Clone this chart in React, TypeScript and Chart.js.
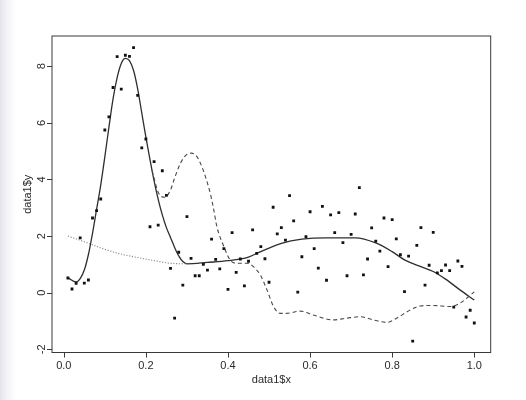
import React, { useEffect, useRef } from "react";
import { Chart, registerables } from "chart.js";

Chart.register(...registerables);

// ---- data ----
const xValues = [
  0.01, 0.02, 0.03, 0.04, 0.05, 0.06, 0.07, 0.08, 0.09, 0.10,
  0.11, 0.12, 0.13, 0.14, 0.15, 0.16, 0.17, 0.18, 0.19, 0.20,
  0.21, 0.22, 0.23, 0.24, 0.25, 0.26, 0.27, 0.28, 0.29, 0.30,
  0.31, 0.32, 0.33, 0.34, 0.35, 0.36, 0.37, 0.38, 0.39, 0.40,
  0.41, 0.42, 0.43, 0.44, 0.45, 0.46, 0.47, 0.48, 0.49, 0.50,
  0.51, 0.52, 0.53, 0.54, 0.55, 0.56, 0.57, 0.58, 0.59, 0.60,
  0.61, 0.62, 0.63, 0.64, 0.65, 0.66, 0.67, 0.68, 0.69, 0.70,
  0.71, 0.72, 0.73, 0.74, 0.75, 0.76, 0.77, 0.78, 0.79, 0.80,
  0.81, 0.82, 0.83, 0.84, 0.85, 0.86, 0.87, 0.88, 0.89, 0.90,
  0.91, 0.92, 0.93, 0.94, 0.95, 0.96, 0.97, 0.98, 0.99, 1.00,
];
const yValues = [
  0.52, 0.13, 0.33, 1.94, 0.34, 0.45, 2.64, 2.90, 3.31, 5.75,
  6.21, 7.25, 8.34, 7.19, 8.39, 8.35, 8.66, 6.97, 5.12, 5.43,
  2.33, 4.63, 2.39, 4.31, 3.44, 0.86, -0.90, 1.43, 0.27, 2.69,
  1.21, 0.60, 0.60, 1.00, 0.80, 1.89, 1.18, 0.84, 1.56, 0.12,
  2.12, 0.72, 1.19, 0.24, 1.11, 2.22, 1.39, 1.63, 1.20, 0.37,
  3.02, 2.08, 2.30, 1.86, 3.43, 2.54, 0.02, 1.27, 1.98, 2.86,
  1.56, 0.87, 3.05, 0.44, 2.75, 2.12, 2.83, 1.77, 0.60, 2.06,
  2.78, 3.71, 0.63, 1.19, 2.29, 1.82, 1.47, 2.64, 0.92, 2.58,
  1.90, 1.34, 0.04, 1.29, -1.71, 1.67, 2.30, 0.27, 0.97, 2.13,
  0.70, 0.78, 0.98, 0.78, -0.51, 1.12, 0.93, -0.86, -0.62, -1.07,
];

const solidX = [
  0.01, 0.03, 0.04, 0.05, 0.06, 0.07, 0.08, 0.09, 0.10, 0.11, 0.12, 0.13,
  0.14, 0.15, 0.16, 0.17, 0.18, 0.19, 0.20, 0.21, 0.22, 0.23, 0.24, 0.25,
  0.26, 0.27, 0.28, 0.29, 0.30, 0.35, 0.40, 0.45, 0.48, 0.53, 0.58, 0.64,
  0.71, 0.76, 0.80, 0.83, 0.87, 0.90, 0.93, 0.965, 1.00,
];
const solidY = [
  0.53, 0.38, 0.5, 0.8, 1.35, 2.1, 2.95, 3.8, 4.8, 5.85, 6.85, 7.6,
  8.1, 8.28, 8.2, 7.85, 7.2, 6.35, 5.5, 4.7, 3.95, 3.3, 2.75, 2.3,
  1.95, 1.6, 1.3, 1.1, 1.02, 1.07, 1.13, 1.26, 1.45, 1.74, 1.89, 1.94,
  1.94, 1.76, 1.45, 1.16, 0.92, 0.75, 0.48, 0.1, -0.26,
];

const dashedX = [
  0.215, 0.23, 0.239, 0.246, 0.26, 0.27, 0.284, 0.297, 0.31, 0.322, 0.333,
  0.345, 0.357, 0.365, 0.373, 0.39, 0.405, 0.421, 0.446, 0.462, 0.479,
  0.495, 0.511, 0.527, 0.543, 0.576, 0.608, 0.657, 0.689, 0.722, 0.754,
  0.787, 0.811, 0.844, 0.868, 0.9, 0.941, 0.965, 1.0,
];
const dashedY = [
  4.32, 3.55, 3.39, 3.37, 3.63, 4.05, 4.57, 4.85, 4.93, 4.85, 4.57,
  4.1, 3.5, 2.95, 2.33, 1.63, 1.16, 1.04, 1.04, 0.92, 0.62,
  0.1, -0.49, -0.73, -0.73, -0.65, -0.79, -0.96, -0.9, -0.85, -0.96,
  -1.05, -0.9, -0.61, -0.47, -0.45, -0.49, -0.37, 0.03,
];

const dottedX = [0.01, 0.05, 0.089, 0.13, 0.17, 0.21, 0.26, 0.3];
const dottedY = [2.0, 1.8, 1.59, 1.4, 1.27, 1.16, 1.04, 1.02];

const xTicks = [0, 0.2, 0.4, 0.6, 0.8, 1.0];
const xTickLabels = ["0.0", "0.2", "0.4", "0.6", "0.8", "1.0"];
const yTicks = [-2, 0, 2, 4, 6, 8];
const yTickLabels = ["-2", "0", "2", "4", "6", "8"];
const xTitle = "data1$x";
const yTitle = "data1$y";

const zip = (xs: number[], ys: number[]) => xs.map((x, i) => ({ x, y: ys[i] }));

const FONT = '11px "Liberation Sans", Arial, sans-serif';
const AXIS_COLOR = "#3a3a3a";
const TEXT_COLOR = "#2a2a2a";

const axesPlugin = {
  id: "rAxes",
  afterDraw(chart: any) {
    const { ctx, chartArea, scales } = chart;
    const { left, right, top, bottom } = chartArea;
    const xs = scales.x;
    const ys = scales.y;
    ctx.save();
    ctx.strokeStyle = AXIS_COLOR;
    ctx.lineWidth = 1;
    // box
    ctx.strokeRect(left, top, right - left, bottom - top);
    // x ticks
    ctx.fillStyle = TEXT_COLOR;
    ctx.font = FONT;
    ctx.textAlign = "center";
    ctx.textBaseline = "middle";
    ctx.beginPath();
    xTicks.forEach((v) => {
      const px = Math.round(xs.getPixelForValue(v)) + 0.5;
      ctx.moveTo(px, bottom);
      ctx.lineTo(px, bottom + 5);
    });
    ctx.stroke();
    xTicks.forEach((v, i) => {
      ctx.fillText(xTickLabels[i], xs.getPixelForValue(v), bottom + 13);
    });
    // y ticks
    ctx.beginPath();
    yTicks.forEach((v) => {
      const py = Math.round(ys.getPixelForValue(v)) + 0.5;
      ctx.moveTo(left, py);
      ctx.lineTo(left - 5, py);
    });
    ctx.stroke();
    yTicks.forEach((v, i) => {
      ctx.save();
      ctx.translate(left - 10.5, ys.getPixelForValue(v));
      ctx.rotate(-Math.PI / 2);
      ctx.fillText(yTickLabels[i], 0, 0);
      ctx.restore();
    });
    // titles
    ctx.fillText(xTitle, (left + right) / 2, bottom + 27);
    ctx.save();
    ctx.translate(left - 24, (top + bottom) / 2);
    ctx.rotate(-Math.PI / 2);
    ctx.fillText(yTitle, 0, 0);
    ctx.restore();
    ctx.restore();
  },
};

export default function App() {
  const ref = useRef<HTMLCanvasElement | null>(null);

  useEffect(() => {
    if (!ref.current) return;
    const chart = new Chart(ref.current, {
      type: "scatter",
      data: {
        datasets: [
          {
            label: "points",
            data: zip(xValues, yValues),
            showLine: false,
            pointStyle: "rect",
            pointRadius: 2,
            pointBorderWidth: 0,
            pointBackgroundColor: "#111",
            pointBorderColor: "#111",
          },
          {
            label: "dotted",
            data: zip(dottedX, dottedY),
            showLine: true,
            pointRadius: 0,
            borderColor: "#8a8a8a",
            borderWidth: 1.1,
            borderDash: [1.2, 1.6],
            cubicInterpolationMode: "monotone",
            tension: 0.4,
          },
          {
            label: "dashed",
            data: zip(dashedX, dashedY),
            showLine: true,
            pointRadius: 0,
            borderColor: "#4a4a4a",
            borderWidth: 1.1,
            borderDash: [4, 3],
            cubicInterpolationMode: "monotone",
            tension: 0.4,
          },
          {
            label: "solid",
            data: zip(solidX, solidY),
            showLine: true,
            pointRadius: 0,
            borderColor: "#2e2e2e",
            borderWidth: 1.3,
            cubicInterpolationMode: "monotone",
            tension: 0.4,
          },
        ],
      } as any,
      options: {
        animation: false,
        responsive: false,
        devicePixelRatio: 1,
        layout: { padding: { left: 52, top: 36, right: 35.3, bottom: 47.5 } },
        plugins: { legend: { display: false }, tooltip: { enabled: false } },
        events: [],
        scales: {
          x: { type: "linear", min: -0.0287, max: 1.04, display: false },
          y: { type: "linear", min: -2.113, max: 9.07, display: false },
        },
      } as any,
      plugins: [axesPlugin],
    });
    return () => chart.destroy();
  }, []);

  return (
    <div
      style={{
        position: "absolute",
        left: 0,
        top: 0,
        width: 526,
        height: 400,
        background: "linear-gradient(to right, #e4e4ec 0px, #f4f4f7 7px, #ffffff 16px)",
      }}
    >
      <canvas ref={ref} width={526} height={400} style={{ display: "block" }} />
    </div>
  );
}
